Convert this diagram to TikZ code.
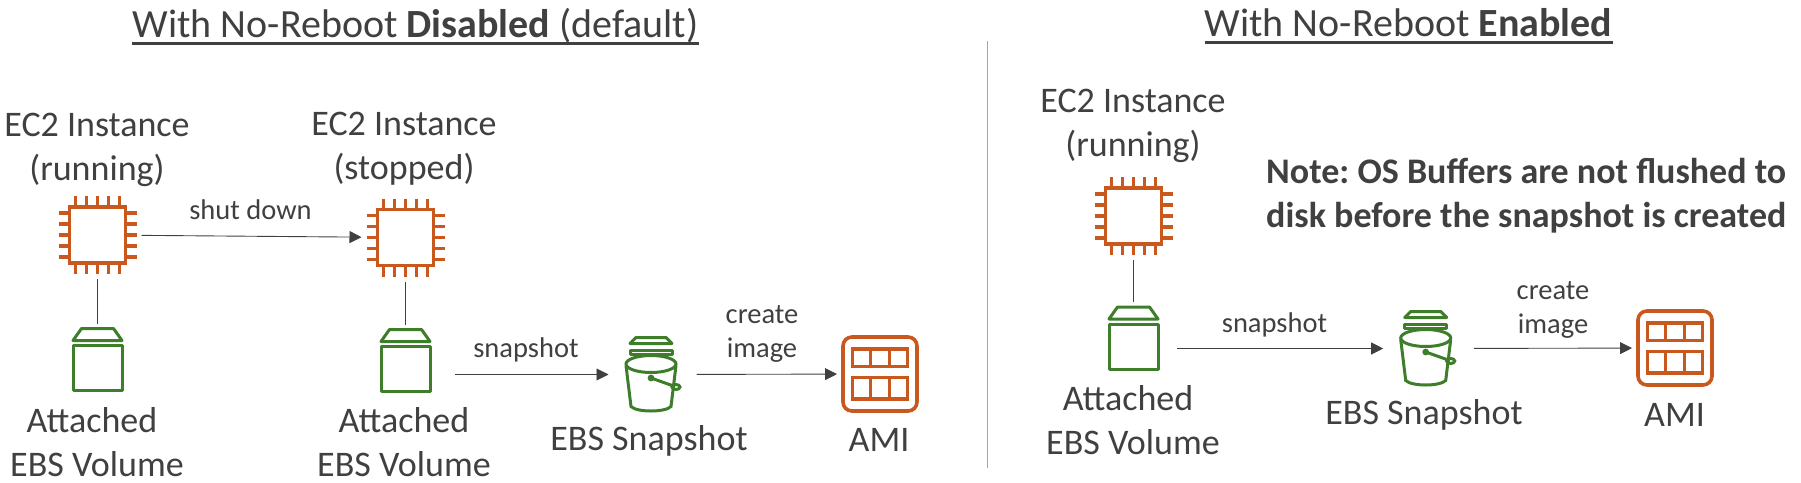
\documentclass[tikz,border=0pt]{standalone}
\usepackage{fontspec}
\setmainfont{Carlito}
\usepackage{tikz}
\usetikzlibrary{arrows.meta}

\definecolor{inktext}{RGB}{64,64,64}
\definecolor{chiporange}{RGB}{200,88,30}
\definecolor{ebsgreen}{RGB}{62,125,42}

\tikzset{
    iconbox/.style={rectangle, inner sep=0pt, outer sep=4pt},
    txt/.style={anchor=base, inner sep=0pt, text=inktext, font=\fontsize{36}{44}\selectfont, align=center},
    small/.style={anchor=base, inner sep=0pt, text=inktext, font=\fontsize{28.5}{34}\selectfont, align=center},
    heading/.style={anchor=base, inner sep=0pt, text=inktext, font=\fontsize{40}{44}\selectfont},
    headrule/.style={line width=3.2pt, inktext},
    flow/.style={-{Triangle[length=12pt,width=12pt]}, line width=0.9pt, inktext},
    link/.style={line width=0.8pt, inktext},
    chip/.pic={
        \node[iconbox, minimum size=80pt] (-box) at (0,0) {};
        \draw[chiporange, line width=3.6pt] (-28,-28) rectangle (28,28);
        \foreach \p in {-22,-11,0,11,22} {
            \draw[chiporange, line width=3.2pt] (\p,-39) -- (\p,-28) (\p,28) -- (\p,39);
            \draw[chiporange, line width=3.2pt] (-39,\p) -- (-28,\p) (28,\p) -- (39,\p);
        }
    },
    volume/.pic={
        \node[iconbox, minimum width=51pt, minimum height=64pt] (-box) at (0,0) {};
        \draw[ebsgreen, line width=3pt, line join=round] (-24.5,-19) -- (-16,-31) -- (16,-31) -- (24.5,-19) -- cycle;
        \draw[ebsgreen, line width=3pt, line join=round] (-24.5,-14) rectangle (24.5,31);
    },
    bucket/.pic={
        \node[iconbox, minimum width=55pt, minimum height=78pt, outer sep=15pt] (-box) at (0,0) {};
        \draw[ebsgreen, line width=3pt, line join=round] (-21,-31) -- (-15,-37) -- (15,-37) -- (21,-31) -- cycle;
        \draw[ebsgreen, line width=3pt, line join=round] (-21,-24) rectangle (21,-20);
        \draw[ebsgreen, line width=3pt] (0,-10.5) ellipse (25 and 8.5);
        \draw[ebsgreen, line width=3pt] (-25,-9) -- (-20,32) .. controls (-14,38) and (14,38) .. (20,32) -- (25,-9);
        \fill[ebsgreen] (0,3.5) circle (3.4pt);
        \draw[ebsgreen, line width=3pt] (0,3.5) -- (24,12);
        \draw[ebsgreen, line width=3pt] (25,12.5) ellipse (4 and 2.5);
    },
    amiicon/.pic={
        \node[iconbox, minimum size=78pt] (-box) at (0,0) {};
        \draw[chiporange, line width=3.6pt, rounded corners=9pt] (-37,-37) rectangle (37,37);
        \foreach \top/\bot in {-25/-7.5, 3.5/25} {
            \draw[chiporange, line width=3.2pt] (-27.5,\top) rectangle (27.5,\bot);
            \draw[chiporange, line width=3.2pt] (-9.6,\top) -- (-9.6,\bot) (9.6,\top) -- (9.6,\bot);
        }
    },
}

\begin{document}
\begin{tikzpicture}[x=1pt, y=-1pt]
    \useasboundingbox (0,0) rectangle (1801,482);
    \frenchspacing
    % left panel
    \node[heading] (headleft) at (415.5,37) {With No-Reboot \textbf{Disabled} (default)};
    \draw[headrule] ([yshift=-6.5pt]headleft.base west) -- ([yshift=-6.5pt]headleft.base east);

    \node[txt] (ec2a) at (97,180) {EC2 Instance\\(running)};
    \node[txt] (ec2b) at (404,179) {EC2 Instance\\(stopped)};
    \pic (chipa) at (97.5,235) {chip};
    \pic (chipb) at (405.5,237.5) {chip};
    \draw[flow] (chipa-box) -- (chipb-box);
    \node[small] (shutdown) at (250.5,219) {shut down};

    \pic (vola) at (97.5,359.5) {volume};
    \pic (volb) at (405.5,360.5) {volume};
    \draw[link] (chipa-box) -- (vola-box);
    \draw[link] (chipb-box) -- (volb-box);
    \node[txt] (attacheda) at (97,476) {Attached\hspace*{10pt}\\EBS Volume};
    \node[txt] (attachedb) at (404,476) {Attached\\EBS Volume};

    \pic (snapa) at (651,374.5) {bucket};
    \pic (amia) at (880,374) {amiicon};
    \draw[flow, shorten <=20pt] (volb-box.east |- snapa-box) -- (snapa-box);
    \draw[flow, shorten <=3pt] (snapa-box) -- (amia-box);
    \node[small] (snapshota) at (526,357) {snapshot};
    \node[small] (imagea) at (762,357) {create\\image};
    \node[txt] (snaplabela) at (649,450) {EBS Snapshot};
    \node[txt] (amilabela) at (879,451) {AMI};

    % divider
    \coordinate (divtop) at (987,41);
    \coordinate (divbot) at (987,468);
    \draw[line width=0.8pt, black!35] (divtop) -- (divbot);

    % right panel
    \node[heading] (headright) at (1408.5,36) {With No-Reboot \textbf{Enabled}};
    \draw[headrule] ([yshift=-6.5pt]headright.base west) -- ([yshift=-6.5pt]headright.base east);

    \node[txt] (ec2c) at (1133,156) {EC2 Instance\\(running)};
    \pic (chipc) at (1133.5,216) {chip};
    \pic (volc) at (1133.5,338) {volume};
    \draw[link] (chipc-box) -- (volc-box);
    \node[txt] (attachedc) at (1133,454) {Attached\hspace*{10pt}\\EBS Volume};

    \node[txt, anchor=base west, align=left] (note) at (1266,227) {\textbf{Note: OS Buffers are not flushed to}\\\textbf{disk before the snapshot is created}};

    \pic (snapc) at (1425.7,348.5) {bucket};
    \pic (amic) at (1675,348) {amiicon};
    \draw[flow, shorten <=14pt] (volc-box.east |- snapc-box) -- (snapc-box);
    \draw[flow, shorten <=6pt] (snapc-box) -- (amic-box);
    \node[small] (snapshotc) at (1274.5,332) {snapshot};
    \node[small] (imagec) at (1553,333) {create\\image};
    \node[txt] (snaplabelc) at (1424,424) {EBS Snapshot};
    \node[txt] (amilabelc) at (1674.5,426) {AMI};
\end{tikzpicture}
\end{document}
